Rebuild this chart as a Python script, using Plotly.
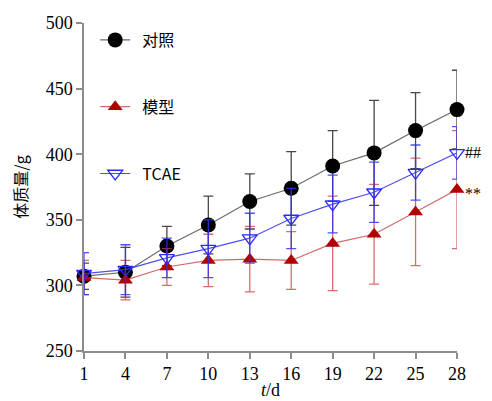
import plotly.graph_objects as go

days = [1, 4, 7, 10, 13, 16, 19, 22, 25, 28]
tick_labels = ["1", "4", "7", "10", "13", "16", "19", "22", "25", "28"]
control = [307, 310, 330, 346, 364, 374, 391, 401, 418, 434]
control_sd = [10, 19, 15, 22, 21, 28, 27, 40, 29, 30]
model = [306, 304, 314, 319, 320, 319, 332, 339, 356, 373]
model_sd = [13, 15, 14, 20, 25, 22, 36, 38, 41, 45]
tcae = [309, 312, 321, 328, 336, 351, 362, 371, 386, 401]
tcae_sd = [16, 19, 15, 22, 19, 23, 22, 23, 21, 20]
names = ["对照", "模型", "TCAE"]

serif = "Liberation Serif, Times New Roman, serif"
cjk = "Noto Sans CJK SC"

fig = go.Figure()

series = [
    (names[0], control, control_sd, dict(symbol="circle", size=15, color="#000000"),
     "rgba(90,90,90,0.9)", "rgba(40,40,40,0.85)"),
    (names[1], model, model_sd, dict(symbol="triangle-up", size=13, color="#b00000"),
     "rgba(205,90,90,0.9)", "rgba(200,60,60,0.75)"),
    (names[2], tcae, tcae_sd, dict(symbol="triangle-down-open", size=13, color="#2b2bff",
                                   line=dict(width=1.3, color="#2b2bff")),
     "rgba(60,60,240,0.9)", "rgba(50,50,240,0.85)"),
]

for i, (nm, vals, sd, mk, lc, ec) in enumerate(series):
    fig.add_trace(go.Scatter(
        x=days, y=vals, name="\u00a0\u00a0" + nm, mode="lines+markers",
        line=dict(color=lc, width=1.2),
        marker=mk,
        error_y=dict(type="data", array=sd, visible=True, color=ec, thickness=1.3, width=5),
        cliponaxis=False,
        legendgroup="g%d" % i,
    ))

fig.add_annotation(x=28, y=tcae[-1], xref="x", yref="y", text="##", showarrow=False,
                   xanchor="left", xshift=6, font=dict(family=serif, size=16, color="#000"))
fig.add_annotation(x=28, y=model[-1], xref="x", yref="y", text="**", showarrow=False,
                   xanchor="left", xshift=6, yshift=-4, font=dict(family=serif, size=16, color="#000"))

axis_common = dict(showline=True, linecolor="#8c8c8c", linewidth=1.5, ticks="outside",
                   tickcolor="#8c8c8c", ticklen=6, tickwidth=1.5, showgrid=False, zeroline=False,
                   automargin=False,
                   tickfont=dict(family=serif, size=18, color="#000"))

# page body has an 8px default margin, so the figure is sized to fit inside it
fig.update_layout(
    width=484, height=393,
    margin=dict(l=76, r=35, t=15, b=50),
    plot_bgcolor="white", paper_bgcolor="white",
    xaxis=dict(range=[1, 28], tickvals=days, ticktext=tick_labels,
               title=dict(text="<i>t</i>/d", font=dict(family=serif, size=18, color="#000"), standoff=0),
               **axis_common),
    yaxis=dict(range=[250, 500], tickvals=[250, 300, 350, 400, 450, 500],
               title=dict(text="体质量/g", font=dict(family=cjk, size=16, color="#000"), standoff=19),
               **axis_common),
    legend=dict(x=0.03, y=1.0, xanchor="left", yanchor="top", bgcolor="rgba(0,0,0,0)",
                font=dict(family=cjk, size=16, color="#000"),
                tracegroupgap=43, itemwidth=30),
    showlegend=True,
)

fig.write_html("out.html")
